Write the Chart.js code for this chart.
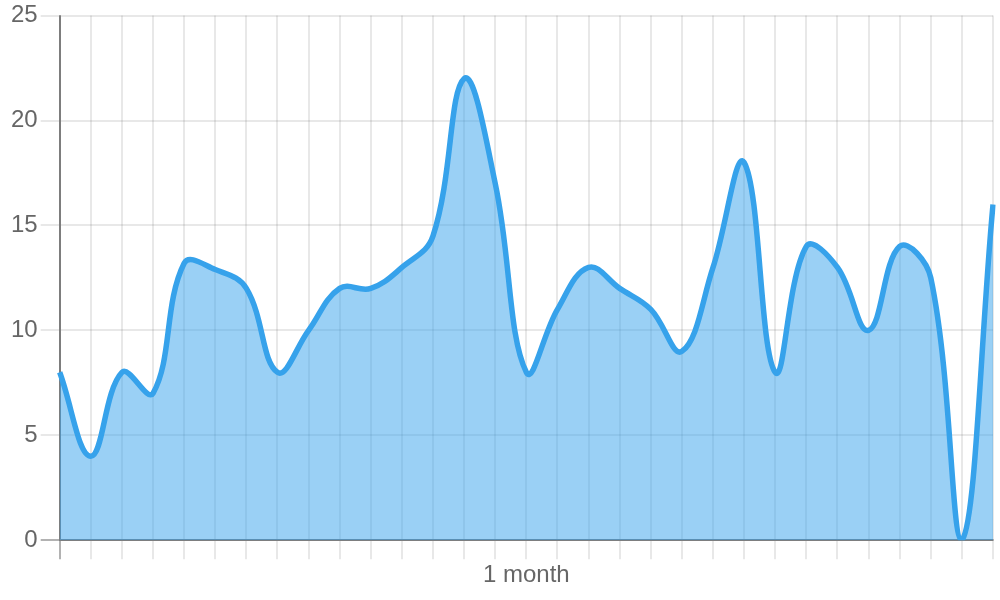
<!DOCTYPE html>
<html>
<head>
<meta charset="utf-8">
<script src="https://cdn.jsdelivr.net/npm/chart.js@4"></script>
<style>
  html, body { margin: 0; padding: 0; background: #fff; }
  #wrap { width: 1000px; height: 600px; }
</style>
</head>
<body>
<div id="wrap"><canvas id="chart"></canvas></div>
<script>
// 31 daily values, one tick label in the middle
const labels = ['', '', '', '', '', '', '', '', '', '', '', '', '', '', '', '1 month',
    '', '', '', '', '', '', '', '', '', '', '', '', '', '', ''];
const values = [8, 4, 8, 7, 13.2, 12.9, 12, 8, 10, 12, 12, 13, 14.5, 22, 17, 8,
    11, 13, 12, 11, 9, 13, 18, 8, 14, 13, 10, 14, 12.5, 0, 16];
const yTicks = [0, 5, 10, 15, 20, 25];

const ctx = document.getElementById('chart').getContext('2d');
const chart = new Chart(ctx, {
    type: 'line',
    data: {
        labels: labels,
        datasets: [{
            data: values,
            borderColor: '#36A2EB',
            backgroundColor: 'rgba(54, 162, 235, 0.5)',
            borderWidth: 5.5,
            fill: true,
            tension: 0.4,
            pointRadius: 0
        }]
    },
    options: {
        responsive: true,
        maintainAspectRatio: false,
        animation: false,
        layout: { padding: { top: 0, right: 7, bottom: 8, left: 8 } },
        plugins: {
            legend: { display: false },
            tooltip: { enabled: false }
        },
        scales: {
            x: {
                ticks: {
                    color: '#666',
                    font: { size: 24 },
                    padding: 2,
                    autoSkip: false,
                    maxRotation: 0
                },
                grid: {
                    color: ctx => ctx.index === 0 ? 'rgba(0,0,0,0.3)' : 'rgba(0,0,0,0.09)',
                    lineWidth: 2,
                    tickLength: 19
                },
                border: { color: 'rgba(0,0,0,0.3)', width: 2 }
            },
            y: {
                min: yTicks[0],
                max: yTicks[yTicks.length - 1],
                ticks: {
                    stepSize: 5,
                    color: '#666',
                    font: { size: 24, lineHeight: 1.05 }
                },
                grid: {
                    color: ctx => ctx.tick && ctx.tick.value === 0 ? 'rgba(0,0,0,0.3)' : 'rgba(0,0,0,0.09)',
                    lineWidth: 2,
                    tickLength: 19
                },
                border: { color: 'rgba(0,0,0,0.3)', width: 2 }
            }
        }
    }
});
</script>
</body>
</html>
